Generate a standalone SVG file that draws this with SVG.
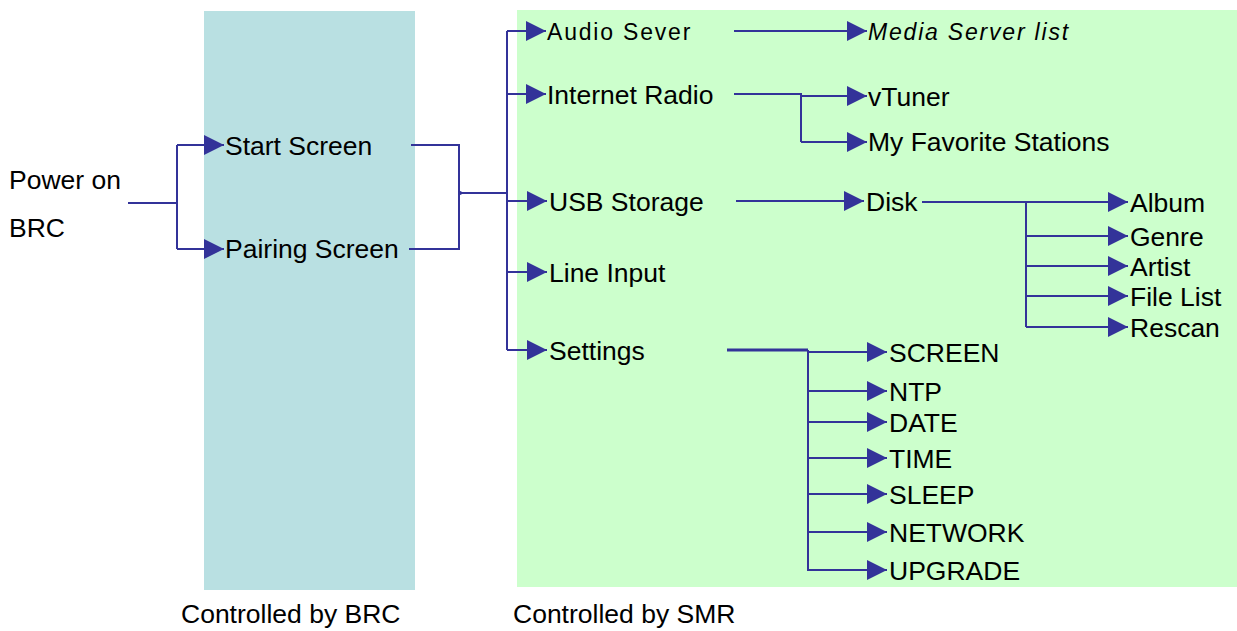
<svg xmlns="http://www.w3.org/2000/svg" width="1237" height="631" viewBox="0 0 1237 631">
<style>
text{font-family:"Liberation Sans",Arial,sans-serif;font-size:26.5px;fill:#000}
.sm{font-size:23px;letter-spacing:1.8px}
.it{font-style:italic}
.c{fill:none;stroke:#333399;stroke-width:2}
.a{fill:none;stroke:#333399;stroke-width:2;marker-end:url(#ah)}
</style>
<defs>
<marker id="ah" markerUnits="userSpaceOnUse" markerWidth="20" markerHeight="20" refX="20" refY="10" orient="auto" viewBox="0 0 20 20">
<path d="M0,0 L20,10 L0,20 z" fill="#333399"/>
</marker>
</defs>
<rect id="brc-zone" x="204" y="11" width="211" height="579" fill="#B9E0E2"/>
<rect id="smr-zone" x="517" y="10" width="720" height="577" fill="#CCFFCC"/>
<g id="connectors">
<path class="c" d="M128,203 H177 M177,145 V249"/>
<path class="a" d="M177,145 H224"/>
<path class="a" d="M177,249 H224"/>
<path class="c" d="M411,145 H459 V249 H409 M459,193 H507 M507,31 V350"/>
<circle cx="460" cy="193" r="2" fill="#333399"/>
<path class="a" d="M507,31 H546"/>
<path class="a" d="M507,94 H546"/>
<path class="a" d="M507,201 H547"/>
<path class="a" d="M507,272 H547"/>
<path class="a" d="M507,350 H547"/>
<path class="a" d="M734,31 H867"/>
<path class="c" d="M734,94 H801 V142"/>
<path class="a" d="M801,96 H867"/>
<path class="a" d="M801,142 H867"/>
<path class="a" d="M736,201 H864"/>
<path class="c" d="M922,202 H1026 V327"/>
<path class="a" d="M1026,202 H1128"/>
<path class="a" d="M1026,236 H1128"/>
<path class="a" d="M1026,266 H1128"/>
<path class="a" d="M1026,296 H1128"/>
<path class="a" d="M1026,327 H1128"/>
<path class="c" d="M727,350 H808" style="stroke-width:3"/>
<path class="c" d="M808,350 V571"/>
<path class="a" d="M808,352 H887"/>
<path class="a" d="M808,391 H887"/>
<path class="a" d="M808,422 H887"/>
<path class="a" d="M808,458 H887"/>
<path class="a" d="M808,494 H887"/>
<path class="a" d="M808,532 H887"/>
<path class="a" d="M808,570 H887"/>
</g>
<g id="power-on"><text x="9" y="189">Power on</text><text x="9" y="237">BRC</text></g>
<g id="start-screen"><text x="225" y="155">Start Screen</text></g>
<g id="pairing-screen"><text x="225" y="258">Pairing Screen</text></g>
<g id="audio-sever"><text class="sm" x="547" y="40">Audio Sever</text></g>
<g id="media-server-list"><text class="sm it" x="868" y="40">Media Server list</text></g>
<g id="internet-radio"><text x="547" y="104">Internet Radio</text></g>
<g id="vtuner"><text x="868" y="106">vTuner</text></g>
<g id="my-favorite-stations"><text x="868" y="151">My Favorite Stations</text></g>
<g id="usb-storage"><text x="549" y="211">USB Storage</text></g>
<g id="disk"><text x="866" y="211">Disk</text></g>
<g id="album"><text x="1130" y="212">Album</text></g>
<g id="genre"><text x="1130" y="246">Genre</text></g>
<g id="artist"><text x="1130" y="276">Artist</text></g>
<g id="file-list"><text x="1130" y="306">File List</text></g>
<g id="rescan"><text x="1130" y="337">Rescan</text></g>
<g id="line-input"><text x="549" y="282">Line Input</text></g>
<g id="settings"><text x="549" y="360">Settings</text></g>
<g id="screen"><text x="889" y="362">SCREEN</text></g>
<g id="ntp"><text x="889" y="401">NTP</text></g>
<g id="date"><text x="889" y="432">DATE</text></g>
<g id="time"><text x="889" y="468">TIME</text></g>
<g id="sleep"><text x="889" y="504">SLEEP</text></g>
<g id="network"><text x="889" y="542">NETWORK</text></g>
<g id="upgrade"><text x="889" y="580">UPGRADE</text></g>
<g id="label-brc"><text x="181" y="623">Controlled by BRC</text></g>
<g id="label-smr"><text x="513" y="623">Controlled by SMR</text></g>
</svg>
